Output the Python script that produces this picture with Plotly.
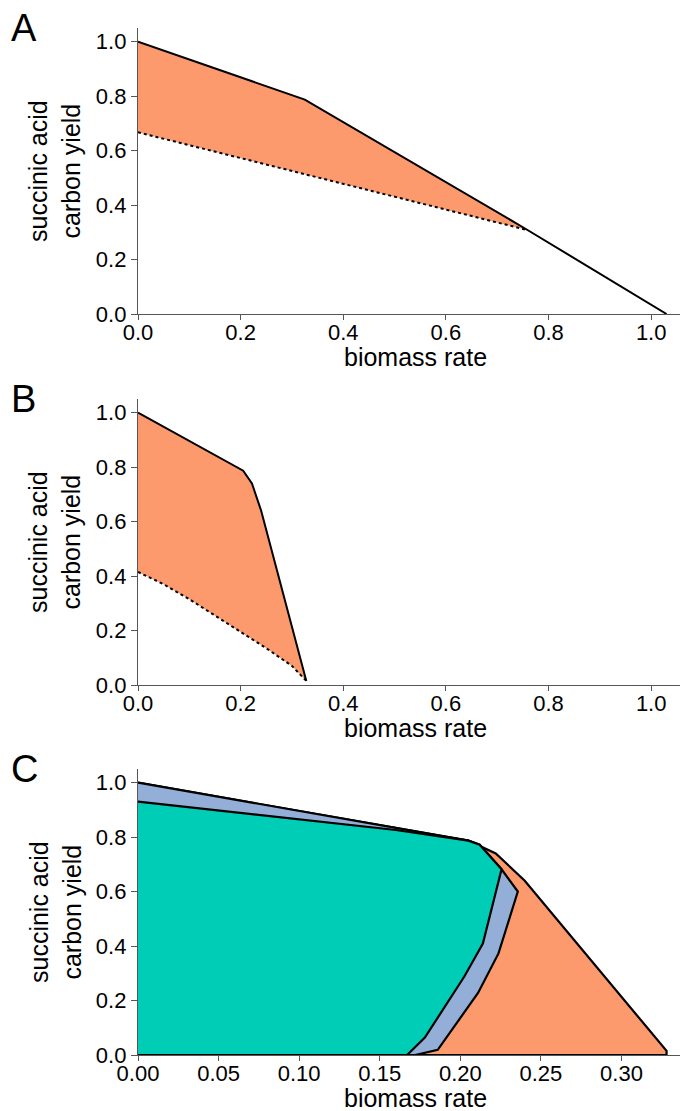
import plotly.graph_objects as go

# ---------------- data ----------------
# Panel A
A_upper_x = [0.0, 0.325, 0.755, 1.03]
A_upper_y = [1.0, 0.787, 0.313, 0.0]
A_lower_x = [0.0, 0.755]
A_lower_y = [0.667, 0.31]

# Panel B
B_upper_x = [0.0, 0.205, 0.222, 0.24, 0.328]
B_upper_y = [1.0, 0.787, 0.74, 0.64, 0.015]
B_lower_x = [0.0, 0.05, 0.1, 0.15, 0.2, 0.25, 0.3, 0.328]
B_lower_y = [0.415, 0.37, 0.315, 0.255, 0.195, 0.135, 0.07, 0.015]

# Panel C polygons (upper boundary followed by lower-right boundary)
C_orange_x = [0.0, 0.205, 0.222, 0.24, 0.328, 0.328, 0.0]
C_orange_y = [1.0, 0.787, 0.74, 0.64, 0.015, 0.0, 0.0]
C_blue_x = [0.0, 0.205, 0.212, 0.2256, 0.2357, 0.2237, 0.211, 0.186, 0.172, 0.0]
C_blue_y = [1.0, 0.787, 0.772, 0.682, 0.600, 0.373, 0.228, 0.019, 0.0, 0.0]
C_green_x = [0.0, 0.16, 0.205, 0.212, 0.2256, 0.214, 0.2025, 0.178, 0.167, 0.0]
C_green_y = [0.93, 0.826, 0.787, 0.772, 0.682, 0.409, 0.288, 0.064, 0.0, 0.0]

y_ticks = [0.0, 0.2, 0.4, 0.6, 0.8, 1.0]
x_ticks_ab = [0.0, 0.2, 0.4, 0.6, 0.8, 1.0]
x_ticks_c = [0.0, 0.05, 0.10, 0.15, 0.20, 0.25, 0.30]

x_title = "biomass rate"
y_title = "succinic acid<br>carbon yield"
panel_letters = ["A", "B", "C"]

ORANGE = "#fd9a6d"
BLUE = "#93afd7"
GREEN = "#00cdb6"
AXC = "#555555"
FONT = "Liberation Sans, Arial, sans-serif"

fig = go.Figure()

def envelope(xa, ya, xl, yl, xref, yref):
    px = list(xa) + list(reversed(xl))
    py = list(ya) + list(reversed(yl))
    fig.add_trace(go.Scatter(x=px, y=py, fill="toself", fillcolor=ORANGE,
                             line=dict(width=0), mode="lines",
                             xaxis=xref, yaxis=yref, hoverinfo="skip"))
    fig.add_trace(go.Scatter(x=xl, y=yl, mode="lines",
                             line=dict(color="black", width=2, dash="dot"),
                             xaxis=xref, yaxis=yref))
    fig.add_trace(go.Scatter(x=xa, y=ya, mode="lines",
                             line=dict(color="black", width=2),
                             xaxis=xref, yaxis=yref))

envelope(A_upper_x, A_upper_y, A_lower_x, A_lower_y, "x", "y")
envelope(B_upper_x, B_upper_y, B_lower_x, B_lower_y, "x2", "y2")

for px, py, col in [(C_orange_x, C_orange_y, ORANGE),
                    (C_blue_x, C_blue_y, BLUE),
                    (C_green_x, C_green_y, GREEN)]:
    fig.add_trace(go.Scatter(x=px, y=py, fill="toself", fillcolor=col,
                             mode="lines", line=dict(color="black", width=2.2),
                             xaxis="x3", yaxis="y3"))

W, H = 688, 1111
XL, XR = 130, 685
xdom = [XL / W, XR / W]
tops = [20, 391, 761]
PH = 286
doms = [[1 - (t + PH) / H, 1 - t / H] for t in tops]

tickfont = dict(family=FONT, size=22, color="black")
titlefont = dict(family=FONT, size=25, color="black")

def xaxis(anchor, rng, ticks, fmt):
    return dict(domain=xdom, anchor=anchor, range=rng, tickvals=ticks,
                tickformat=fmt, showgrid=False, zeroline=False,
                showline=True, linecolor=AXC, linewidth=1.3,
                ticks="outside", ticklen=5, tickcolor=AXC, tickwidth=1.3,
                tickfont=tickfont, automargin=False, ticklabelstandoff=-7)

def yaxis(anchor, dom):
    return dict(domain=dom, anchor=anchor, range=[0, 1.05], tickvals=y_ticks,
                tickformat=".1f", showgrid=False, zeroline=False,
                showline=True, linecolor=AXC, linewidth=1.3,
                ticks="outside", ticklen=6, tickcolor=AXC, tickwidth=1.3,
                tickfont=tickfont, automargin=False)

fig.update_layout(
    width=W, height=H,
    margin=dict(l=0, r=0, t=0, b=0),
    paper_bgcolor="white", plot_bgcolor="white",
    showlegend=False,
    xaxis=xaxis("y", [0, 1.0815], x_ticks_ab, ".1f"),
    yaxis=yaxis("x", doms[0]),
    xaxis2=xaxis("y2", [0, 1.0815], x_ticks_ab, ".1f"),
    yaxis2=yaxis("x2", doms[1]),
    xaxis3=xaxis("y3", [0, 0.3444], x_ticks_c, ".2f"),
    yaxis3=yaxis("x3", doms[2]),
)

for letter, t in zip(panel_letters, tops):
    bottom = t + PH
    fig.add_annotation(text=letter, xref="paper", yref="paper",
                       x=1 / W, y=1 - t / H, xanchor="left", yanchor="middle",
                       showarrow=False, font=dict(family=FONT, size=38, color="black"))
    # x-axis title
    fig.add_annotation(text=x_title, xref="paper", yref="paper",
                       x=(XL + XR) / 2 / W, y=1 - (bottom + 59) / H,
                       xanchor="center", yanchor="bottom", showarrow=False,
                       font=titlefont)
    # y-axis title
    fig.add_annotation(text=y_title, xref="paper", yref="paper",
                       x=47 / W, y=1 - (t + PH / 2) / H, textangle=-90,
                       xanchor="center", yanchor="middle", showarrow=False,
                       font=titlefont)

fig.write_html("out.html")
